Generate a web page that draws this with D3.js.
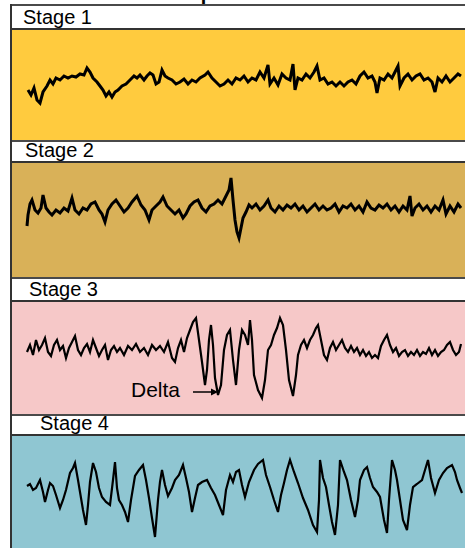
<!DOCTYPE html>
<meta charset="utf-8">
<style>
  body { margin: 0; background: #fff; }
  svg { display: block; }
  text { font-family: Arial, "Liberation Sans", sans-serif; }
</style>
<svg width="465" height="548"></svg>
<script src="https://cdn.jsdelivr.net/npm/d3@7"></script>
<script>
// EEG traces: [sample, amplitude in µV], 30 s epoch sampled to 435 points
var stages = ["Stage 1", "Stage 2", "Stage 3", "Stage 4"];

var stage1 = [[1,-16],[4,-26],[7,-12],[10,-36],[13,-42],[16,-20],[20,-8],[23,4],[26,-4],[29,8],[33,4],[37,12],[41,8],[45,12],[49,10],[53,16],[57,14],[60,28],[63,20],[66,8],[70,0],[73,-8],[76,-16],[79,-28],[82,-20],[85,-30],[88,-20],[91,-16],[95,-8],[99,-4],[103,4],[107,12],[110,8],[113,14],[117,4],[120,12],[123,18],[126,14],[129,-4],[132,0],[135,24],[138,12],[141,8],[145,4],[149,-4],[153,0],[157,6],[161,-4],[165,4],[169,0],[173,8],[178,14],[181,20],[185,8],[189,0],[193,-8],[197,-4],[201,4],[205,-4],[209,8],[213,4],[217,12],[221,0],[225,8],[229,4],[233,20],[237,8],[241,34],[243,-4],[247,8],[251,-6],[255,16],[259,8],[263,4],[266,36],[268,-16],[271,8],[275,4],[279,16],[283,8],[287,20],[290,32],[293,4],[297,8],[301,-4],[305,0],[309,-8],[313,0],[317,-8],[321,0],[325,4],[329,-4],[333,12],[337,20],[341,8],[345,12],[348,0],[350,-22],[353,8],[357,4],[361,16],[365,8],[369,24],[371,32],[373,-8],[377,8],[381,16],[385,4],[389,12],[393,16],[397,4],[401,8],[405,0],[408,-20],[411,8],[415,0],[419,12],[423,0],[427,8],[431,16],[434,12]];

var stage2 = [[0,-36],[1,-14],[3,8],[5,16],[8,-4],[11,-10],[14,0],[16,26],[19,0],[22,-8],[25,-14],[29,-4],[33,-10],[37,0],[41,-6],[45,20],[48,-4],[52,-12],[56,0],[60,-4],[64,8],[68,12],[72,-4],[75,-12],[78,-28],[81,-4],[85,8],[89,16],[93,4],[97,-8],[101,0],[105,12],[110,24],[114,6],[118,-4],[122,-24],[125,-4],[129,4],[133,12],[136,22],[140,4],[144,-4],[148,-12],[152,-4],[156,-20],[159,-12],[163,4],[167,12],[171,16],[175,0],[179,-8],[183,4],[187,8],[191,16],[195,8],[199,24],[202,36],[204,60],[206,16],[208,-24],[210,-48],[212,-60],[214,-40],[216,-20],[219,-8],[222,6],[225,0],[229,8],[233,-4],[237,4],[241,16],[244,0],[248,-8],[252,4],[256,-4],[260,6],[264,0],[268,8],[272,-4],[276,4],[280,-8],[284,0],[288,8],[292,-4],[296,4],[300,-4],[304,0],[308,8],[312,-8],[316,4],[320,0],[324,8],[328,-4],[332,4],[336,-8],[340,12],[344,0],[348,-4],[352,6],[356,0],[360,8],[364,-4],[368,4],[372,-8],[376,4],[380,-4],[383,24],[385,-16],[388,0],[392,8],[396,-4],[400,4],[404,-8],[408,4],[412,-4],[416,16],[419,-12],[423,4],[427,-8],[431,8],[434,0]];

var stage3 = [[0,-4],[3,10],[6,-10],[9,20],[12,0],[15,10],[18,24],[21,-4],[24,-12],[27,10],[30,20],[33,0],[36,8],[39,-16],[42,4],[45,16],[48,28],[51,0],[54,-10],[57,4],[60,12],[63,-4],[66,20],[69,4],[72,-12],[75,0],[78,10],[81,-20],[84,0],[87,8],[90,-4],[93,4],[97,-10],[101,8],[105,0],[109,12],[113,-4],[117,4],[121,-10],[125,10],[129,0],[133,8],[137,-4],[141,16],[145,-16],[148,-24],[151,4],[154,20],[157,-4],[160,24],[163,40],[166,56],[169,64],[172,20],[175,-24],[178,-70],[180,-40],[182,20],[184,50],[186,10],[188,-56],[191,-90],[194,-70],[197,0],[200,30],[203,40],[206,-20],[209,-70],[212,0],[215,40],[218,30],[221,10],[223,60],[225,20],[227,-50],[231,-80],[235,-96],[238,-60],[241,0],[244,10],[247,30],[250,44],[253,64],[256,50],[259,0],[262,-60],[266,-92],[269,-50],[271,-10],[274,10],[277,20],[280,4],[283,20],[286,30],[289,44],[291,50],[294,20],[297,-10],[300,-20],[303,4],[306,16],[309,0],[312,10],[315,20],[318,4],[321,-4],[324,8],[327,-4],[330,4],[333,-10],[336,0],[339,-12],[342,-4],[345,-16],[348,-10],[351,-16],[354,8],[357,20],[360,30],[363,10],[366,-4],[369,4],[372,-12],[375,-4],[378,0],[381,-12],[384,-4],[387,-10],[390,0],[393,-12],[396,-4],[399,-8],[402,4],[405,-10],[408,0],[411,-12],[414,-4],[417,0],[420,10],[423,16],[426,0],[429,-10],[432,-4],[434,12]];

var stage4 = [[0,8],[3,12],[6,0],[9,4],[13,20],[16,-4],[18,-24],[21,0],[23,14],[26,8],[29,-10],[33,-36],[36,-20],[39,0],[43,34],[46,44],[48,54],[51,20],[54,-16],[56,-40],[59,-70],[61,-30],[63,16],[66,54],[69,36],[72,4],[75,-14],[79,-24],[83,-30],[86,20],[88,56],[90,4],[92,-20],[95,-30],[98,-44],[101,-64],[104,-20],[108,28],[112,40],[116,50],[119,20],[122,-16],[125,-56],[128,-94],[131,-20],[133,16],[135,40],[138,10],[141,-12],[145,4],[148,20],[152,30],[156,50],[159,24],[162,-4],[165,-44],[168,-16],[171,10],[175,16],[180,20],[184,4],[188,-10],[192,-30],[196,-50],[199,0],[203,30],[206,16],[209,36],[212,40],[215,10],[218,-14],[222,16],[227,40],[231,52],[236,60],[239,30],[243,6],[247,-20],[251,-44],[254,-10],[257,14],[260,40],[263,60],[267,36],[271,14],[276,-16],[281,-40],[286,-70],[290,-84],[292,-20],[293,60],[296,24],[299,6],[302,-30],[305,-64],[308,-90],[311,-30],[313,60],[317,36],[320,20],[324,-20],[328,-54],[331,-20],[333,20],[337,40],[340,46],[343,24],[346,6],[350,-4],[353,-14],[357,-60],[360,-86],[362,-20],[365,60],[368,40],[370,20],[373,-20],[376,-60],[380,-80],[383,-30],[386,6],[390,12],[395,20],[398,40],[401,60],[404,24],[408,-6],[412,20],[416,34],[420,44],[425,50],[428,36],[430,20],[433,4],[435,-6]];

var traces = [stage1, stage2, stage3, stage4];

// layout of the four strips
var headTop = [5, 141, 278, 415],
    bodyTop = [29, 162, 301, 435],
    bodyBottom = [141, 278, 415, 548],
    baseline = [82, 208, 350, 490],
    labelX = [23, 25, 29, 40],
    fills = ["#ffcb3e", "#d9b158", "#f6c8c8", "#8fc6d2"],
    widths = [3, 3, 2.2, 2.2];

var svg = d3.select("svg"),
    width = +svg.attr("width"),
    height = +svg.attr("height"),
    left = 11;

// heading above the first strip, cut off by the top edge as in the original
svg.append("text")
    .attr("x", 213)
    .attr("y", 0)
    .attr("text-anchor", "end")
    .style("font-size", "20px")
    .style("font-weight", "bold")
    .text("Slow Wave Sleep");

var x = d3.scaleLinear().domain([0, 435]).range([27, 462]);

stages.forEach(function(name, i) {
  var g = svg.append("g");
  var y = d3.scaleLinear().domain([-100, 100]).range([baseline[i] + 50, baseline[i] - 50]);

  g.append("rect")
      .attr("x", left)
      .attr("y", bodyTop[i])
      .attr("width", width - left)
      .attr("height", bodyBottom[i] - bodyTop[i])
      .style("fill", fills[i]);

  g.append("line")
      .attr("x1", left).attr("x2", width)
      .attr("y1", headTop[i]).attr("y2", headTop[i])
      .style("stroke", "#4a4a4a").style("stroke-width", 2);
  g.append("line")
      .attr("x1", left).attr("x2", width)
      .attr("y1", bodyTop[i]).attr("y2", bodyTop[i])
      .style("stroke", "#333").style("stroke-width", 2);

  g.append("text")
      .attr("x", labelX[i])
      .attr("y", bodyTop[i] - 5)
      .style("font-size", "20px")
      .text(name);

  var line = d3.line()
      .x(function(d) { return x(d[0]); })
      .y(function(d) { return y(d[1]); });

  g.append("path")
      .datum(traces[i])
      .attr("d", line)
      .style("fill", "none")
      .style("stroke", "#000")
      .style("stroke-width", widths[i])
      .style("stroke-linejoin", "miter");
});

// Delta annotation on stage 3
var yDelta = d3.scaleLinear().domain([-100, 100]).range([baseline[2] + 50, baseline[2] - 50]);
svg.append("text")
    .attr("x", 131)
    .attr("y", 397)
    .style("font-size", "21px")
    .text("Delta");
svg.append("line")
    .attr("x1", x(166)).attr("x2", x(187))
    .attr("y1", yDelta(-84)).attr("y2", yDelta(-84))
    .style("stroke", "#000").style("stroke-width", 1.5);
svg.append("path")
    .attr("d", "M" + x(191) + "," + yDelta(-84) + "l-7,-3.5v7z")
    .style("fill", "#000");

svg.append("line")
    .attr("x1", left).attr("x2", left)
    .attr("y1", 4).attr("y2", height)
    .style("stroke", "#333").style("stroke-width", 2);
</script>
